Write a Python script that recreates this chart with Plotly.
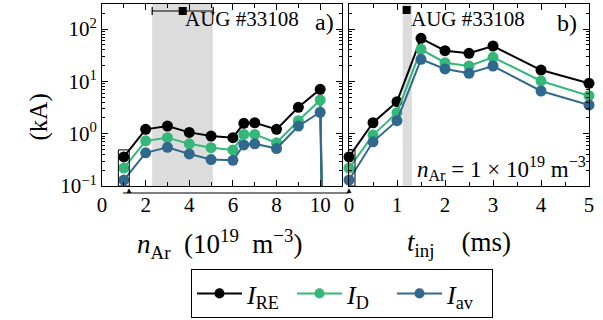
import plotly.graph_objects as go

# Panel a: argon density scan
n_ar = [1, 2, 3, 4, 5, 6, 6.5, 7, 8, 9, 10, 10.15]
a_ire = [0.36, 1.21, 1.40, 1.06, 0.90, 0.84, 1.58, 1.62, 1.21, 3.2, 7.06, 0.001]
a_id = [0.22, 0.73, 0.84, 0.64, 0.54, 0.49, 0.97, 0.97, 0.67, 1.77, 4.41, 0.001]
a_iav = [0.13, 0.43, 0.55, 0.41, 0.32, 0.31, 0.61, 0.64, 0.52, 1.40, 2.57, 0.001]

# Panel b: injection time scan
t_inj = [0, 0.5, 1, 1.5, 2, 2.5, 3, 4, 5]
b_ire = [0.36, 1.62, 4.1, 66.7, 38.6, 34.5, 47.5, 16.5, 9.2]
b_id = [0.22, 0.94, 2.52, 41.1, 22.8, 19.7, 28.9, 10.2, 5.33]
b_iav = [0.13, 0.70, 1.77, 26.4, 17.3, 14.3, 19.7, 6.55, 3.54]

# Experimental reference (AUG #33108)
aug_n = [3.7]
aug_n_err = [1.4]
aug_n_i = [222]
aug_t = [1.2]
aug_t_i = [232]
band_a = [2.3, 5.08]
band_b = [1.12, 1.31]

names = ["<i>I</i><sub>RE</sub>", "<i>I</i><sub>D</sub>", "<i>I</i><sub>av</sub>"]
colors = ["#000000", "#35b779", "#31688e"]

FONT = "Liberation Serif, DejaVu Serif, Times New Roman, serif"
fig = go.Figure()

sizes_a = [11] * (len(n_ar) - 1) + [0]
for ys, nm, c in zip([a_ire, a_id, a_iav], names, colors):
    fig.add_trace(go.Scatter(x=n_ar, y=ys, mode="lines+markers", name=nm,
                             line=dict(color=c, width=2),
                             marker=dict(size=sizes_a, color=c, opacity=1, line=dict(width=0)),
                             xaxis="x", yaxis="y", cliponaxis=True, showlegend=True))
for ys, nm, c in zip([b_ire, b_id, b_iav], names, colors):
    fig.add_trace(go.Scatter(x=t_inj, y=ys, mode="lines+markers", name=nm,
                             line=dict(color=c, width=2),
                             marker=dict(size=11, color=c, opacity=1, line=dict(width=0)),
                             xaxis="x2", yaxis="y2", cliponaxis=False, showlegend=False))

fig.add_trace(go.Scatter(x=aug_n, y=aug_n_i, mode="markers", showlegend=False,
                         marker=dict(symbol="square", size=8, color="black"),
                         error_x=dict(type="data", array=aug_n_err, color="black", thickness=1.2, width=4),
                         xaxis="x", yaxis="y", cliponaxis=False))
fig.add_trace(go.Scatter(x=aug_t, y=aug_t_i, mode="markers", showlegend=False,
                         marker=dict(symbol="square", size=8, color="black"),
                         xaxis="x2", yaxis="y2", cliponaxis=False))

shapes = [
    dict(type="rect", xref="x", yref="y domain", x0=band_a[0], x1=band_a[1], y0=0, y1=1,
         fillcolor="#dcdcdc", line=dict(width=0), layer="below"),
    dict(type="rect", xref="x2", yref="y2 domain", x0=band_b[0], x1=band_b[1], y0=0, y1=1,
         fillcolor="#dcdcdc", line=dict(width=0), layer="below"),
    dict(type="rect", xref="x", yref="y", x0=0.75, x1=1.25, y0=0.1, y1=0.49,
         line=dict(color="black", width=1)),
    dict(type="rect", xref="x2", yref="y2", x0=-0.125, x1=0.125, y0=0.1, y1=0.49,
         line=dict(color="black", width=1)),
    dict(type="line", xref="paper", yref="paper", x0=123 / 603, x1=349 / 603,
         y0=1 - 193 / 320, y1=1 - 193 / 320, line=dict(color="black", width=1.2)),
]

ann = [
    dict(text="AUG #33108", x=0.83, y=0.995, xref="x domain", yref="y domain", xanchor="right",
         yanchor="top", showarrow=False, font=dict(size=21, family=FONT)),
    dict(text="a)", x=0.975, y=0.985, xref="x domain", yref="y domain", xanchor="right",
         yanchor="top", showarrow=False, font=dict(size=24, family=FONT)),
    dict(text="AUG #33108", x=0.25, y=0.995, xref="x2 domain", yref="y2 domain", xanchor="left",
         yanchor="top", showarrow=False, font=dict(size=21, family=FONT)),
    dict(text="b)", x=0.96, y=0.98, xref="x2 domain", yref="y2 domain", xanchor="right",
         yanchor="top", showarrow=False, font=dict(size=24, family=FONT)),
    dict(text="<i>n</i><sub>Ar</sub> = 1 × 10<sup>19</sup> m<sup>−3</sup>", x=0.995, y=0.0,
         xref="x2 domain", yref="y2 domain", xanchor="right", yanchor="bottom", showarrow=False,
         font=dict(size=23, family=FONT)),
    dict(text="(kA)", x=22 / 603, y=1 - 92 / 320, xref="paper", yref="paper", textangle=-90,
         showarrow=False, font=dict(size=25, family=FONT)),
    dict(text="▲", x=123 / 603, y=1 - 190 / 320, xref="paper", yref="paper", showarrow=False,
         font=dict(size=8, color="black"), yanchor="middle"),
    dict(text="▲", x=349 / 603, y=1 - 190 / 320, xref="paper", yref="paper", showarrow=False,
         font=dict(size=8, color="black"), yanchor="middle"),
    dict(text="<i>n</i><sub>Ar</sub>&nbsp; (10<sup>19</sup>&nbsp; m<sup>−3</sup>)", x=135 / 603, y=1 - 244 / 320,
         xref="paper", yref="paper", showarrow=False, xanchor="left", yanchor="middle",
         font=dict(size=27, family=FONT)),
    dict(text="<i>t</i><sub>inj</sub>&nbsp;&nbsp;&nbsp; (ms)", x=405 / 603, y=1 - 244 / 320,
         xref="paper", yref="paper", showarrow=False, xanchor="left", yanchor="middle",
         font=dict(size=27, family=FONT)),
]

minor_vals = [m * 10 ** e for e in range(-1, 3) for m in range(2, 10)]
yax_common = dict(type="log", range=[-1, 2.48], showgrid=False, showline=True, linecolor="black",
                  linewidth=1, mirror="ticks", ticks="inside", ticklen=6, tickcolor="black",
                  tickvals=[0.1, 1, 10, 100], zeroline=False, automargin=False,
                  minor=dict(ticks="inside", ticklen=3, tickvals=minor_vals, tickcolor="black", showgrid=False))

fig.update_layout(
    width=603, height=320, margin=dict(l=0, r=0, t=0, b=0),
    paper_bgcolor="white", plot_bgcolor="white",
    font=dict(family=FONT, size=21, color="black"),
    xaxis=dict(domain=[102 / 603, 342 / 603], range=[0, 11], tickvals=[0, 2, 4, 6, 8, 10],
               showgrid=False, showline=True, linecolor="black", mirror="ticks", ticks="inside",
               ticklen=6, tickcolor="black", zeroline=False, automargin=False,
               minor=dict(ticks="inside", ticklen=4, dtick=1, tickcolor="black", showgrid=False)),
    xaxis2=dict(domain=[349 / 603, 589 / 603], range=[0, 5], tickvals=[0, 1, 2, 3, 4, 5],
                showgrid=False, showline=True, linecolor="black", mirror="ticks", ticks="inside",
                ticklen=6, tickcolor="black", zeroline=False, automargin=False,
                minor=dict(ticks="inside", ticklen=4, dtick=0.5, tickcolor="black", showgrid=False)),
    yaxis=dict(domain=[1 - 186 / 320, 1 - 4 / 320], anchor="x",
               ticktext=["10<sup>−1</sup>", "10<sup>0</sup>", "10<sup>1</sup>", "10<sup>2</sup>"],
               **yax_common),
    yaxis2=dict(domain=[1 - 186 / 320, 1 - 4 / 320], anchor="x2", showticklabels=False,
                ticktext=["", "", "", ""], **yax_common),
    legend=dict(orientation="h", x=342 / 603, xanchor="center", y=1 - 269 / 320, yanchor="top",
                bordercolor="black", borderwidth=1, font=dict(size=26, family=FONT),
                bgcolor="white", itemwidth=45, entrywidth=40, entrywidthmode="pixels"),
    shapes=shapes, annotations=ann,
)

fig.write_html("out.html", config={"displayModeBar": False},
               post_script="document.body.style.margin='0';document.body.style.padding='0';")
